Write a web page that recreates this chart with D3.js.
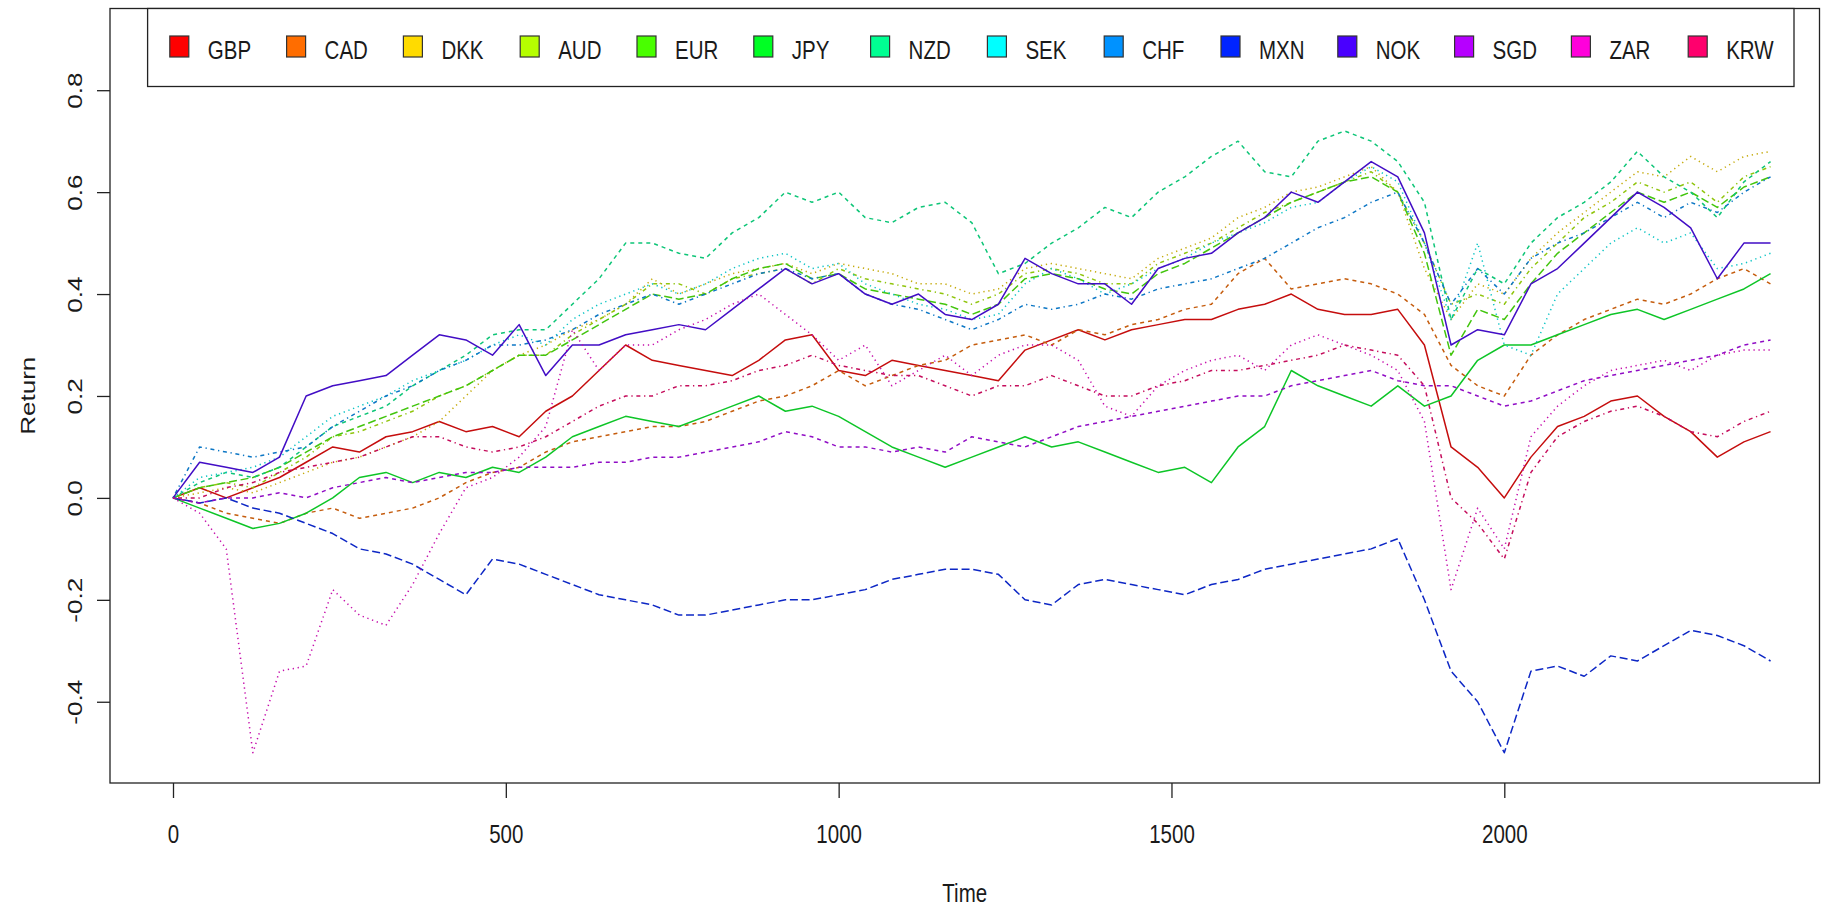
<!DOCTYPE html>
<html>
<head>
<meta charset="utf-8">
<script src="https://cdn.jsdelivr.net/npm/d3@7"></script>
<style>
  html, body { margin: 0; padding: 0; background: #fff; }
  svg { display: block; }
  text { font-family: "Liberation Sans", Arial, sans-serif; fill: #1a1a1a; }
</style>
</head>
<body>
<svg id="chart" width="1837" height="909"></svg>
<script>
// ---- data (time steps of 40) ----
const times = d3.range(0, 2401, 40);
const currencies = ["GBP","CAD","DKK","AUD","EUR","JPY","NZD","SEK","CHF","MXN","NOK","SGD","ZAR","KRW"];
const xTicks = [0, 500, 1000, 1500, 2000];
const yTicks = [-0.4, -0.2, 0.0, 0.2, 0.4, 0.6, 0.8];

const GBP = [0,0.02,0.0,0.02,0.04,0.07,0.1,0.09,0.12,0.13,
  0.15,0.13,0.14,0.12,0.17,0.2,0.25,0.3,0.27,0.26,
  0.25,0.24,0.27,0.31,0.32,0.25,0.24,0.27,0.26,0.25,
  0.24,0.23,0.29,0.31,0.33,0.31,0.33,0.34,0.35,0.35,
  0.37,0.38,0.4,0.37,0.36,0.36,0.37,0.3,0.1,0.06,
  0.0,0.08,0.14,0.16,0.19,0.2,0.16,0.13,0.08,0.11,0.13];
const CAD = [0,-0.01,-0.03,-0.04,-0.05,-0.03,-0.02,-0.04,-0.03,-0.02,
  0.0,0.03,0.05,0.06,0.09,0.11,0.12,0.13,0.14,0.14,
  0.15,0.17,0.19,0.2,0.22,0.25,0.22,0.24,0.26,0.27,
  0.3,0.31,0.32,0.3,0.33,0.32,0.34,0.35,0.37,0.38,
  0.44,0.47,0.41,0.42,0.43,0.42,0.4,0.36,0.26,0.22,
  0.2,0.28,0.32,0.35,0.37,0.39,0.38,0.4,0.43,0.45,0.42];
const DKK = [0,0.01,0.02,0.01,0.03,0.05,0.07,0.08,0.1,0.12,
  0.15,0.2,0.25,0.28,0.3,0.33,0.35,0.38,0.43,0.4,
  0.42,0.44,0.45,0.46,0.44,0.46,0.45,0.44,0.42,0.42,
  0.4,0.41,0.45,0.46,0.45,0.44,0.43,0.47,0.49,0.51,
  0.55,0.57,0.6,0.61,0.63,0.65,0.6,0.45,0.35,0.42,
  0.4,0.47,0.52,0.56,0.6,0.64,0.63,0.67,0.64,0.67,0.68];
const AUD = [0,0.02,0.03,0.02,0.05,0.08,0.12,0.13,0.15,0.17,
  0.2,0.22,0.25,0.28,0.28,0.32,0.35,0.38,0.42,0.42,
  0.4,0.43,0.44,0.45,0.42,0.45,0.43,0.42,0.41,0.4,
  0.38,0.4,0.44,0.45,0.44,0.42,0.42,0.46,0.48,0.5,
  0.53,0.56,0.58,0.6,0.62,0.64,0.6,0.5,0.38,0.4,
  0.38,0.45,0.5,0.55,0.58,0.62,0.6,0.62,0.58,0.63,0.65];
const EUR = [0,0.02,0.03,0.04,0.06,0.09,0.12,0.14,0.16,0.18,
  0.2,0.22,0.25,0.28,0.28,0.31,0.34,0.37,0.4,0.39,
  0.4,0.43,0.45,0.46,0.43,0.44,0.41,0.4,0.39,0.38,
  0.36,0.38,0.43,0.44,0.43,0.41,0.4,0.44,0.46,0.49,
  0.52,0.55,0.58,0.6,0.62,0.63,0.6,0.48,0.28,0.37,
  0.35,0.42,0.48,0.52,0.56,0.6,0.58,0.6,0.57,0.61,0.63];
const JPY = [0,-0.02,-0.04,-0.06,-0.05,-0.03,0.0,0.04,0.05,0.03,
  0.05,0.04,0.06,0.05,0.08,0.12,0.14,0.16,0.15,0.14,
  0.16,0.18,0.2,0.17,0.18,0.16,0.13,0.1,0.08,0.06,
  0.08,0.1,0.12,0.1,0.11,0.09,0.07,0.05,0.06,0.03,
  0.1,0.14,0.25,0.22,0.2,0.18,0.22,0.18,0.2,0.27,
  0.3,0.3,0.32,0.34,0.36,0.37,0.35,0.37,0.39,0.41,0.44];
const NZD = [0,0.03,0.05,0.04,0.06,0.1,0.14,0.16,0.18,0.22,
  0.25,0.28,0.32,0.33,0.33,0.38,0.43,0.5,0.5,0.48,
  0.47,0.52,0.55,0.6,0.58,0.6,0.55,0.54,0.57,0.58,
  0.54,0.44,0.46,0.5,0.53,0.57,0.55,0.6,0.63,0.67,
  0.7,0.64,0.63,0.7,0.72,0.7,0.66,0.58,0.35,0.45,
  0.42,0.5,0.55,0.58,0.62,0.68,0.63,0.6,0.55,0.62,0.66];
const SEK = [0,0.04,0.05,0.06,0.08,0.12,0.16,0.18,0.2,0.23,
  0.25,0.27,0.3,0.32,0.3,0.35,0.38,0.4,0.42,0.4,
  0.42,0.45,0.47,0.48,0.45,0.46,0.42,0.4,0.38,0.37,
  0.35,0.36,0.42,0.45,0.43,0.4,0.42,0.45,0.47,0.5,
  0.52,0.54,0.57,0.58,0.62,0.65,0.62,0.5,0.35,0.5,
  0.3,0.28,0.4,0.45,0.5,0.53,0.5,0.52,0.45,0.46,0.48];
const CHF = [0,0.1,0.09,0.08,0.09,0.1,0.14,0.17,0.2,0.22,
  0.25,0.27,0.3,0.3,0.31,0.33,0.36,0.38,0.4,0.38,
  0.4,0.42,0.44,0.45,0.43,0.44,0.4,0.38,0.37,0.35,
  0.33,0.35,0.38,0.37,0.38,0.4,0.39,0.41,0.42,0.43,
  0.45,0.47,0.5,0.53,0.55,0.58,0.6,0.5,0.38,0.45,
  0.4,0.47,0.5,0.52,0.55,0.58,0.55,0.58,0.56,0.6,0.63];
const MXN = [0,-0.01,0.0,-0.02,-0.03,-0.05,-0.07,-0.1,-0.11,-0.13,
  -0.16,-0.19,-0.12,-0.13,-0.15,-0.17,-0.19,-0.2,-0.21,-0.23,
  -0.23,-0.22,-0.21,-0.2,-0.2,-0.19,-0.18,-0.16,-0.15,-0.14,
  -0.14,-0.15,-0.2,-0.21,-0.17,-0.16,-0.17,-0.18,-0.19,-0.17,
  -0.16,-0.14,-0.13,-0.12,-0.11,-0.1,-0.08,-0.2,-0.34,-0.4,
  -0.5,-0.34,-0.33,-0.35,-0.31,-0.32,-0.29,-0.26,-0.27,-0.29,-0.32];
const NOK = [0,0.07,0.06,0.05,0.08,0.2,0.22,0.23,0.24,0.28,
  0.32,0.31,0.28,0.34,0.24,0.3,0.3,0.32,0.33,0.34,
  0.33,0.37,0.41,0.45,0.42,0.44,0.4,0.38,0.4,0.36,
  0.35,0.38,0.47,0.44,0.42,0.42,0.38,0.45,0.47,0.48,
  0.52,0.55,0.6,0.58,0.62,0.66,0.63,0.52,0.3,0.33,
  0.32,0.42,0.45,0.5,0.55,0.6,0.57,0.53,0.43,0.5,0.5];
const SGD = [0,-0.01,0.0,0.0,0.01,0.0,0.02,0.03,0.04,0.03,
  0.04,0.05,0.05,0.06,0.06,0.06,0.07,0.07,0.08,0.08,
  0.09,0.1,0.11,0.13,0.12,0.1,0.1,0.09,0.1,0.09,
  0.12,0.11,0.1,0.12,0.14,0.15,0.16,0.17,0.18,0.19,
  0.2,0.2,0.22,0.23,0.24,0.25,0.23,0.22,0.22,0.2,
  0.18,0.19,0.21,0.23,0.24,0.25,0.26,0.27,0.28,0.3,0.31];
const ZAR = [0,-0.03,-0.1,-0.5,-0.34,-0.33,-0.18,-0.23,-0.25,-0.17,
  -0.07,0.02,0.04,0.08,0.14,0.33,0.25,0.3,0.3,0.33,
  0.35,0.38,0.4,0.36,0.32,0.27,0.3,0.22,0.25,0.28,
  0.24,0.28,0.3,0.3,0.27,0.18,0.16,0.22,0.25,0.27,
  0.28,0.25,0.3,0.32,0.3,0.28,0.25,0.15,-0.18,-0.02,
  -0.1,0.12,0.18,0.22,0.25,0.26,0.27,0.25,0.28,0.29,0.29];
const KRW = [0,0.0,0.02,0.03,0.05,0.06,0.07,0.08,0.1,0.12,
  0.12,0.1,0.09,0.1,0.12,0.15,0.18,0.2,0.2,0.22,
  0.22,0.23,0.25,0.26,0.28,0.26,0.25,0.24,0.24,0.22,
  0.2,0.22,0.22,0.24,0.22,0.2,0.2,0.22,0.23,0.25,
  0.25,0.26,0.27,0.28,0.3,0.29,0.28,0.22,0.0,-0.05,
  -0.12,0.05,0.12,0.15,0.17,0.18,0.16,0.13,0.12,0.15,0.17];

const seriesValues = [GBP,CAD,DKK,AUD,EUR,JPY,NZD,SEK,CHF,MXN,NOK,SGD,ZAR,KRW];

// ---- styles ----
const palette = ["#FF0000","#FF6D00","#FFDB00","#B6FF00","#49FF00","#00FF24","#00FF92",
                 "#00FFFF","#0092FF","#0024FF","#4900FF","#B600FF","#FF00DB","#FF006D"];
const dashes = [null, "4,4", "1.3,3.7", "1.3,3.7,4,3.7", "8,3.7"];
const FS = 20.5, SY = 1.27;

const svg = d3.select("#chart");

const x = d3.scaleLinear().domain([0, 2000]).range([173, 1504.3]);
const y = d3.scaleLinear().domain([0, 0.8]).range([497.9, 90.2]);

const box = {left: 110, top: 8.5, right: 1819.5, bottom: 783};

// lines
const line = d3.line().x((d, i) => x(times[i])).y(d => y(d));
const gLines = svg.append("g");
seriesValues.forEach((vals, k) => {
  gLines.append("path")
    .attr("d", line(vals))
    .attr("fill", "none")
    .attr("stroke", d3.interpolateRgb(palette[k], "#303030")(0.28))
    .attr("stroke-width", 1.5)
    .attr("stroke-linejoin", "round")
    .attr("stroke-dasharray", dashes[k % 5]);
});

// plot box
svg.append("rect")
  .attr("x", box.left).attr("y", box.top)
  .attr("width", box.right - box.left).attr("height", box.bottom - box.top)
  .attr("fill", "none").attr("stroke", "#222").attr("stroke-width", 1.3);

// x axis
const gx = svg.append("g").attr("transform", `translate(0,${box.bottom})`)
  .call(d3.axisBottom(x).tickValues(xTicks).tickSize(15).tickSizeOuter(0).tickFormat(d => String(d)));
gx.select(".domain").remove();
gx.selectAll(".tick line").attr("stroke", "#222").attr("stroke-width", 1.3);
gx.selectAll(".tick text")
  .attr("y", null).attr("dy", null)
  .attr("transform", `translate(0,60) scale(1,${SY})`)
  .attr("font-size", FS).attr("fill", "#1a1a1a")
  .attr("text-anchor", "middle");

// y axis
const gy = svg.append("g").attr("transform", `translate(${box.left},0)`)
  .call(d3.axisLeft(y).tickValues(yTicks).tickSize(13).tickSizeOuter(0).tickFormat(d => d.toFixed(1)));
gy.select(".domain").remove();
gy.selectAll(".tick line").attr("stroke", "#222").attr("stroke-width", 1.3);
gy.selectAll(".tick text")
  .attr("x", null).attr("dy", null)
  .attr("transform", `translate(-28,0) rotate(-90) scale(${SY},1)`)
  .attr("font-size", FS).attr("fill", "#1a1a1a")
  .attr("text-anchor", "middle");

// axis titles
svg.append("text")
  .attr("transform", `translate(${(box.left + box.right) / 2},902) scale(1,${SY})`)
  .attr("text-anchor", "middle").attr("font-size", FS).text("Time");
svg.append("text")
  .attr("transform", `translate(35,${(box.top + box.bottom) / 2}) rotate(-90) scale(${SY},1)`)
  .attr("text-anchor", "middle").attr("font-size", FS).text("Return");

// legend
const legendG = svg.append("g");
legendG.append("rect")
  .attr("x", 147.6).attr("y", box.top)
  .attr("width", 1794 - 147.6).attr("height", 86.5 - box.top)
  .attr("fill", "#fff").attr("stroke", "#222").attr("stroke-width", 1.3);
const lx = d3.scaleLinear().domain([0, 1]).range([169.8, 169.8 + 116.8]);
currencies.forEach((c, i) => {
  legendG.append("rect")
    .attr("x", lx(i)).attr("y", 36)
    .attr("width", 19).attr("height", 21)
    .attr("fill", palette[i]).attr("stroke", "#333").attr("stroke-width", 1.2);
  legendG.append("text")
    .attr("transform", `translate(${lx(i) + 38},58.5) scale(1,${SY})`)
    .attr("font-size", FS).text(c);
});
</script>
</body>
</html>
